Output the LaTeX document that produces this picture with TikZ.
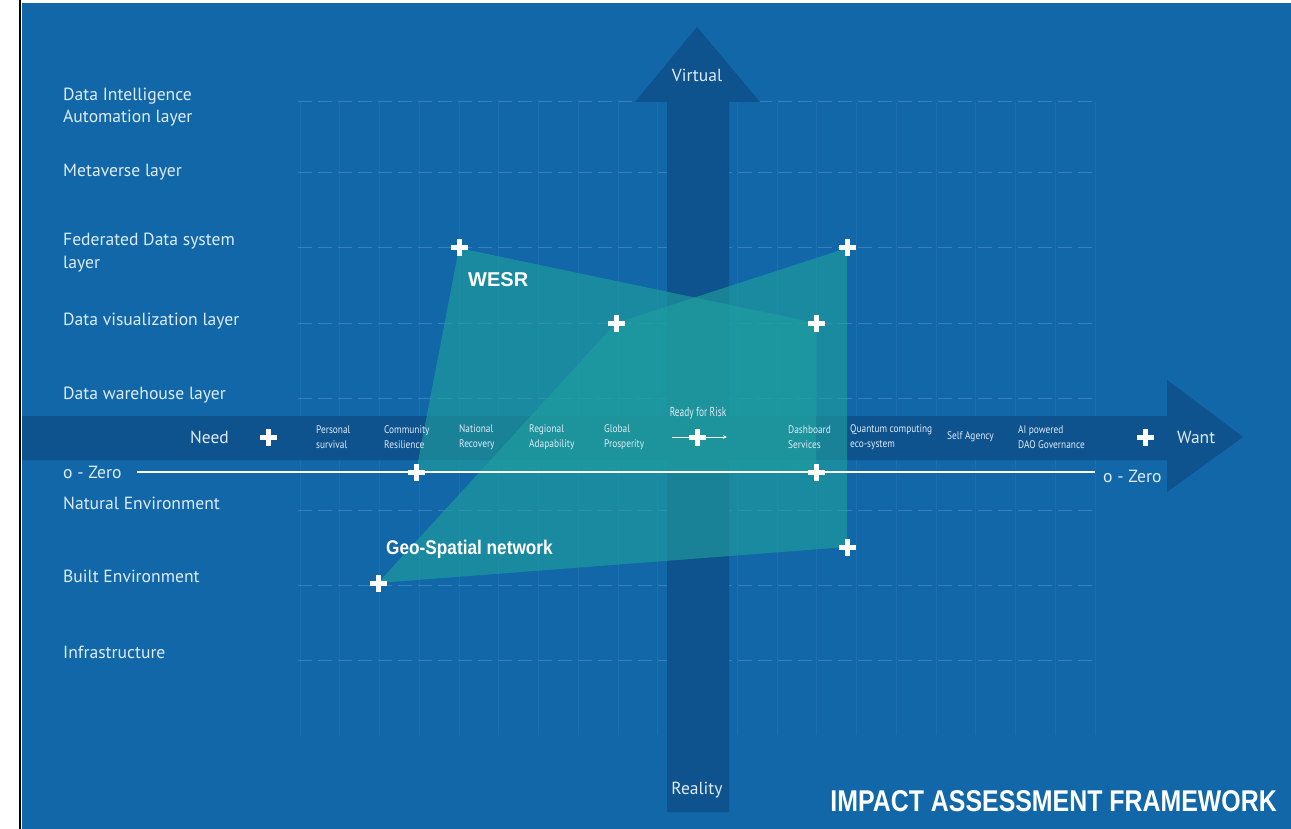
\documentclass[tikz,border=0pt]{standalone}
\usepackage{fontspec}
\setmainfont{PT Sans}
\newfontfamily\narrowfont[FakeStretch=0.85]{PT Sans}
\newfontfamily\riskfont[FakeStretch=0.72]{PT Sans}
\newfontfamily\boldsans{Liberation Sans}
\newfontfamily\condbold[FakeStretch=0.87]{Liberation Sans}
\newfontfamily\titlefont[FakeStretch=0.83]{Liberation Sans}
\usetikzlibrary{arrows.meta,positioning}
\definecolor{bgblue}{RGB}{17,103,168}
\definecolor{bandblue}{RGB}{14,82,142}
\definecolor{gridblue}{RGB}{56,128,188}
\definecolor{zonefill}{RGB}{32,160,158}
\definecolor{labeltext}{RGB}{222,236,248}

\tikzset{
  layer/.style={anchor=west, align=left, inner sep=0pt, text=labeltext,
    font=\fontsize{17.6}{22.5}\selectfont},
  stage/.style={anchor=west, align=left, inner sep=0pt, text=labeltext,
    font=\narrowfont\fontsize{11}{15}\selectfont},
  axislabel/.style={inner sep=0pt, text=labeltext, font=\fontsize{17.5}{20}\selectfont},
  zone/.style={fill=zonefill, fill opacity=0.62},
  gridline/.style={gridblue, line width=1pt, dash pattern=on 14pt off 6pt},
  plusmark/.pic={
    \fill[white] (-8.5,-2.5) rectangle (8.5,2.5);
    \fill[white] (-2.5,-8.5) rectangle (2.5,8.5);
  },
}

\begin{document}
\begin{tikzpicture}[x=1pt, y=-1pt, >=Stealth]
    \useasboundingbox (0,0) rectangle (1291,829);

    % Background
    \fill[white] (0,0) rectangle (1291,829);
    \fill[bgblue] (22,3) rectangle (1291,829);
    \draw[black, line width=2pt] (20,0) -- (20,829);

    % Grid
    \foreach \gy in {102,173,248,323,398,510,585,660}
        \draw[gridline] (298,\gy) -- (1095,\gy);
    \foreach \k in {0,...,20}
        \draw[gridblue, line width=0.6pt, opacity=0.3] (300+39.75*\k,102) -- (300+39.75*\k,735);

    % Need - Want band
    \fill[bandblue] (22,416) -- (1167,416) -- (1167,380) -- (1243,437)
        -- (1167,492) -- (1167,460) -- (22,460) -- cycle;

    % Reality - Virtual arrow
    \fill[bandblue] (667,812) -- (667,102) -- (635,102) -- (697,27)
        -- (760,102) -- (729,102) -- (729,812) -- cycle;

    % Polygon vertices
    \coordinate (wesrA) at (459,248);
    \coordinate (wesrB) at (816,323);
    \coordinate (wesrC) at (816,472);
    \coordinate (wesrD) at (416,472);
    \coordinate (geoA) at (378,583);
    \coordinate (geoB) at (616,323);
    \coordinate (geoC) at (847,248);
    \coordinate (geoD) at (847,547);

    % Zones
    \fill[zone] (wesrA) -- (wesrB) -- (wesrC) -- (wesrD) -- cycle;
    \fill[zone] (geoA) -- (geoB) -- (geoC) -- (geoD) -- cycle;

    % Layer labels
    \node[layer] (intel) at (63,107) {Data Intelligence\\Automation layer};
    \node[layer] (meta) at (63,172) {Metaverse layer};
    \node[layer] (fed) at (63,252.5) {Federated Data system\\layer};
    \node[layer] (visual) at (63,321) {Data visualization layer};
    \node[layer] (ware) at (63,395) {Data warehouse layer};
    \node[layer] (natural) at (63,503) {Natural Environment};
    \node[layer] (built) at (63,576) {Built Environment};
    \node[layer] (infra) at (63,652) {Infrastructure};

    % Axis labels
    \node[axislabel, anchor=east] (need) at (229,437) {Need};
    \node[axislabel, anchor=west] (want) at (1177,437) {Want};
    \node[axislabel] (virtual) at (697,75) {Virtual};
    \node[axislabel] (reality) at (697,790) {Reality};

    % Stages along the band
    \node[stage] (personal) at (316,437.5) {Personal\\survival};
    \node[stage] (community) at (384,437.5) {Community\\Resilience};
    \node[stage] (national) at (459,437.5) {National\\Recovery};
    \node[stage] (regional) at (529,437.5) {Regional\\Adapability};
    \node[stage] (global) at (604,437.5) {Global\\Prosperity};
    \node[stage] (dashboard) at (788,437.5) {Dashboard\\Services};
    \node[stage] (quantum) at (850,437.5) {Quantum computing\\eco-system};
    \node[stage] (agency) at (947,437) {Self Agency};
    \node[stage] (dao) at (1018,437.5) {AI powered\\DAO Governance};

    % Ready for risk
    \node[inner sep=0pt, text=labeltext, font=\riskfont\fontsize{13}{15}\selectfont] (risk) at (698,413) {Ready for Risk};
    \coordinate (riskL) at (672,437);
    \coordinate (riskR) at (727,437);
    \draw[white, line width=0.8pt, -{Stealth[length=4pt,width=3.5pt]}] (riskL) -- (riskR);

    % Zero line
    \node[layer] (zeroL) at (63,472) {o - Zero};
    \node[layer] (zeroR) at (1103,476) {o - Zero};
    \draw[white, line width=1.6pt] ([xshift=15pt]zeroL.east) -- ([xshift=-8pt]zeroR.west |- zeroL.east);

    % Zone labels
    \node[anchor=west, inner sep=0pt, text=white, font=\boldsans\bfseries\fontsize{20}{22}\selectfont] (wesr) at (468,280) {WESR};
    \node[anchor=west, inner sep=0pt, text=white, font=\condbold\bfseries\fontsize{19.8}{22}\selectfont] (geo) at (386,549) {Geo-Spatial network};

    % Plus marks
    \foreach \p in {wesrA,wesrB,wesrC,wesrD,geoA,geoB,geoC,geoD}
        \pic at (\p) {plusmark};
    \pic at (268,437) {plusmark};
    \pic at (697,437) {plusmark};
    \pic at (1145,437) {plusmark};

    % Title
    \node[anchor=east, inner sep=0pt, text=white, font=\titlefont\bfseries\fontsize{30}{32}\selectfont] (title) at (1277,801) {IMPACT ASSESSMENT FRAMEWORK};
\end{tikzpicture}
\end{document}
